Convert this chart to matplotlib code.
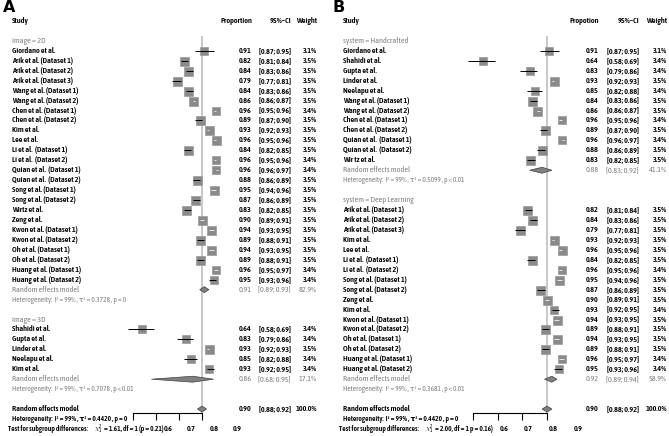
import matplotlib
matplotlib.use("Agg")
import matplotlib.pyplot as plt
from matplotlib import font_manager, transforms
from matplotlib.patches import Polygon

# pick a condensed font (the original uses a narrow humanist face)
installed = {f.name for f in font_manager.fontManager.ttflist}
FONT = "DejaVu Sans"
for cand in ["Asap Condensed", "Barlow Semi Condensed", "Archivo Narrow"]:
    if cand in installed:
        FONT = cand
        break
plt.rcParams["font.family"] = [FONT, "DejaVu Sans"]
plt.rcParams["mathtext.fontset"] = "custom"
plt.rcParams["mathtext.rm"] = FONT
plt.rcParams["mathtext.it"] = FONT + ":italic"
plt.rcParams["mathtext.bf"] = FONT + ":bold"
FS = 5.9
FS_SMALL = 5.3   # heterogeneity / test lines are set a bit tighter
BOLD = 600

# ---------------- panel A : image 2D / 3D ----------------
a_2d_names = ["Giordano et al.", "Arik et al. (Dataset 1)", "Arik et al. (Dataset 2)",
              "Arik et al. (Dataset 3)", "Wang et al. (Dataset 1)", "Wang et al. (Dataset 2)",
              "Chen et al. (Dataset 1)", "Chen et al. (Dataset 2)", "Kim et al.", "Lee et al.",
              "Li et al.  (Dataset 1)", "Li et al.  (Dataset 2)", "Quian et al.  (Dataset 1)",
              "Quian et al.  (Dataset 2)", "Song et al. (Dataset 1)", "Song et al. (Dataset 2)",
              "Wirtz et al.", "Zeng et al.", "Kwon et al. (Dataset 1)", "Kwon et al. (Dataset 2)",
              "Oh et al. (Dataset 1)", "Oh et al. (Dataset 2)", "Huang et al. (Dataset 1)",
              "Huang et al. (Dataset 2)"]
a_2d_prop = [0.91, 0.82, 0.84, 0.79, 0.84, 0.86, 0.96, 0.89, 0.93, 0.96, 0.84, 0.96,
             0.96, 0.88, 0.95, 0.87, 0.83, 0.90, 0.94, 0.89, 0.94, 0.89, 0.96, 0.95]
a_2d_lo = [0.87, 0.81, 0.83, 0.77, 0.83, 0.86, 0.95, 0.87, 0.92, 0.95, 0.82, 0.95,
           0.96, 0.86, 0.94, 0.86, 0.82, 0.89, 0.93, 0.88, 0.93, 0.88, 0.95, 0.93]
a_2d_hi = [0.95, 0.84, 0.86, 0.81, 0.86, 0.87, 0.96, 0.90, 0.93, 0.96, 0.85, 0.96,
           0.97, 0.89, 0.96, 0.89, 0.85, 0.91, 0.95, 0.91, 0.95, 0.91, 0.97, 0.96]
a_2d_w = [3.1, 3.5, 3.5, 3.5, 3.5, 3.5, 3.4, 3.5, 3.5, 3.5, 3.5, 3.4,
          3.4, 3.5, 3.5, 3.5, 3.5, 3.5, 3.5, 3.5, 3.5, 3.5, 3.4, 3.4]

a_3d_names = ["Shahidi et al.", "Gupta et al.", "Linder et al.", "Neelapu et al.", "Kim et al."]
a_3d_prop = [0.64, 0.83, 0.93, 0.85, 0.93]
a_3d_lo = [0.58, 0.79, 0.92, 0.82, 0.92]
a_3d_hi = [0.69, 0.86, 0.93, 0.88, 0.95]
a_3d_w = [3.4, 3.4, 3.5, 3.4, 3.4]

a_sub_labels = ["image = 2D", "image = 3D"]
a_sub_rem = [(0.91, 0.89, 0.93, 82.9), (0.86, 0.68, 0.95, 17.1)]
a_sub_het = ["Heterogeneity:  I² = 99% , τ² = 0.3728 , p = 0",
             "Heterogeneity:  I² = 99% , τ² = 0.7078 , p < 0.01"]
a_test = "= 1.61, df = 1 (p = 0.21)"

# ---------------- panel B : handcrafted / deep learning ----------------
b_hc_names = ["Giordano et al.", "Shahidi et al.", "Gupta et al.", "Linder et al.",
              "Neelapu et al.", "Wang et al. (Dataset 1)", "Wang et al. (Dataset 2)",
              "Chen et al. (Dataset 1)", "Chen et al. (Dataset 2)", "Quian et al.  (Dataset 1)",
              "Quian et al.  (Dataset 2)", "Wir tz et al."]
b_hc_prop = [0.91, 0.64, 0.83, 0.93, 0.85, 0.84, 0.86, 0.96, 0.89, 0.96, 0.88, 0.83]
b_hc_lo = [0.87, 0.58, 0.79, 0.92, 0.82, 0.83, 0.86, 0.95, 0.87, 0.96, 0.86, 0.82]
b_hc_hi = [0.95, 0.69, 0.86, 0.93, 0.88, 0.86, 0.87, 0.96, 0.90, 0.97, 0.89, 0.85]
b_hc_w = [3.1, 3.4, 3.4, 3.5, 3.4, 3.5, 3.5, 3.4, 3.5, 3.4, 3.5, 3.5]

b_dl_names = ["Arik et al. (Dataset 1)", "Arik et al. (Dataset 2)", "Arik et al. (Dataset 3)",
              "Kim et al.", "Lee et al.", "Li et al.  (Dataset 1)", "Li et al.  (Dataset 2)",
              "Song et al. (Dataset 1)", "Song et al. (Dataset 2)", "Zeng et al.", "Kim et al.",
              "Kwon et al. (Dataset 1)", "Kwon et al. (Dataset 2)", "Oh et al. (Dataset 1)",
              "Oh et al. (Dataset 2)", "Huang et al. (Dataset 1)", "Huang et al. (Dataset 2)"]
b_dl_prop = [0.82, 0.84, 0.79, 0.93, 0.96, 0.84, 0.96, 0.95, 0.87, 0.90, 0.93, 0.94,
             0.89, 0.94, 0.89, 0.96, 0.95]
b_dl_lo = [0.81, 0.83, 0.77, 0.92, 0.95, 0.82, 0.95, 0.94, 0.86, 0.89, 0.92, 0.93,
           0.88, 0.93, 0.88, 0.95, 0.93]
b_dl_hi = [0.84, 0.86, 0.81, 0.93, 0.96, 0.85, 0.96, 0.96, 0.89, 0.91, 0.95, 0.95,
           0.91, 0.95, 0.91, 0.97, 0.96]
b_dl_w = [3.5, 3.5, 3.5, 3.5, 3.5, 3.5, 3.4, 3.5, 3.5, 3.5, 3.4, 3.5,
          3.5, 3.5, 3.5, 3.4, 3.4]

b_sub_labels = ["system = Handcrafted", "system = Deep Learning"]
b_sub_rem = [(0.88, 0.83, 0.92, 41.1), (0.92, 0.89, 0.94, 58.9)]
b_sub_het = ["Heterogeneity:  I² = 99% , τ² = 0.5099 , p < 0.01",
             "Heterogeneity:  I² = 99% , τ² = 0.3681 , p < 0.01"]
b_test = "= 2.00, df = 1 p = 0.16)"

# overall model (same in both panels)
overall = (0.90, 0.88, 0.92, 100.0)
overall_het = "Heterogeneity:  I² = 99% , τ² = 0.4420 , p = 0"
tick_vals = [0.6, 0.7, 0.8, 0.9]

W, H = 669, 436
GRAY = "#808080"
fig = plt.figure(figsize=(W / 100, H / 100), dpi=100)
renderer = fig.canvas.get_renderer()


def panel(letter, letter_x, ax_px, lab_x, cols, prop_head, groups, sub_labels, sub_rem,
          sub_het, test_txt, lbl_shift):
    x0, x1 = ax_px
    top, bot = 16, 413
    ax = fig.add_axes([x0 / W, 1 - bot / H, (x1 - x0) / W, (bot - top) / H])
    ax.set_xlim(0.6, 0.9)
    rbot = (bot - 21) / 9.95
    ax.set_ylim(rbot, (top - 21) / 9.95)
    for s in ["top", "left", "right"]:
        ax.spines[s].set_visible(False)
    ax.spines["bottom"].set_bounds(0.6, 0.9)
    ax.spines["bottom"].set_linewidth(0.8)
    ax.set_yticks([])
    ax.set_xticks(tick_vals)
    ax.set_xticklabels([])
    ax.tick_params(axis="x", direction="out", length=5, width=0.8)
    ax.patch.set_visible(False)
    px_per_unit = (x1 - x0) / 0.3

    tr = transforms.blended_transform_factory(fig.transFigure, ax.transData)
    cp, cc, cw = cols

    def txt(x, r, s, **kw):
        kw.setdefault("fontsize", FS)
        return ax.text(x / W, r, s, transform=tr, va="center", clip_on=False, **kw)

    fig.text(letter_x / W, 1 - 8 / H, letter, fontsize=11.5, fontweight="bold", va="center",
             family="DejaVu Sans")
    txt(lab_x, 0, "Study", fontweight=BOLD)
    txt(cp, 0, prop_head, fontweight=BOLD, ha="right")
    txt(cc, 0, "95%–CI", fontweight=BOLD, ha="right")
    txt(cw, 0, "Weight", fontweight=BOLD, ha="right")

    ax.vlines(overall[0], 1.5, rbot, color="#c4c4c4", lw=1.3, zorder=0, clip_on=False)

    r = 2
    for g, (names, prop, lo, hi, w) in enumerate(groups):
        txt(lab_x, r, sub_labels[g], color=GRAY)
        r += 1
        for i in range(len(names)):
            txt(lab_x, r, names[i], fontweight=BOLD)
            side = 9 * (w[i] / 3.5) ** 0.5
            ax.plot(prop[i], r, "s", ms=side * 0.72, mfc="#8a8a8a", mec="#9a9a9a",
                    mew=0.5, clip_on=False, zorder=2)
            hw = side / 2 / px_per_unit
            inside = (prop[i] - lo[i] < hw) and (hi[i] - prop[i] < hw)
            ax.hlines(r, lo[i], hi[i], color="#e8e8e8" if inside else "black",
                      lw=0.7, clip_on=False, zorder=3)
            txt(cp, r, f"{prop[i]:.2f}", fontweight=BOLD, ha="right")
            txt(cc, r, f"[{lo[i]:.2f}; {hi[i]:.2f}]", fontweight=BOLD, ha="right")
            txt(cw, r, f"{w[i]:.1f}%", fontweight=BOLD, ha="right")
            r += 1
        est, l, h, wt = sub_rem[g]
        ax.add_patch(Polygon([(l, r), (est, r - 0.3), (h, r), (est, r + 0.3)],
                             fc="#808080", ec="#404040", lw=0.5, clip_on=False, zorder=3))
        txt(lab_x, r, "Random effects model", color=GRAY)
        txt(cp, r, f"{est:.2f}", color=GRAY, ha="right")
        txt(cc, r, f"[{l:.2f}; {h:.2f}]", color=GRAY, ha="right")
        txt(cw, r, f"{wt:.1f}%", color=GRAY, ha="right")
        txt(lab_x, r + 1, sub_het[g], color=GRAY, fontsize=FS_SMALL)
        r += 3

    est, l, h, wt = overall
    ax.add_patch(Polygon([(l, r), (est, r - 0.3), (h, r), (est, r + 0.3)],
                         fc="#808080", ec="#404040", lw=0.5, clip_on=False, zorder=3))
    txt(lab_x, r, "Random effects model", fontweight=BOLD)
    txt(cp, r, f"{est:.2f}", fontweight=BOLD, ha="right")
    txt(cc, r, f"[{l:.2f}; {h:.2f}]", fontweight=BOLD, ha="right")
    txt(cw, r, f"{wt:.1f}%", fontweight=BOLD, ha="right")
    txt(lab_x, r + 1, overall_het, fontweight=BOLD, fontsize=FS_SMALL)

    # test line in three pieces: heading, chi-square symbol, statistic
    t = txt(lab_x - 4, r + 2, "Test for subgroup differences:", fontweight=BOLD,
            fontsize=FS_SMALL)
    xe = t.get_window_extent(renderer).x1 + 6
    t = txt(xe, r + 2, r"$\chi^2_1$", fontsize=FS_SMALL - 0.2)
    xe = t.get_window_extent(renderer).x1 + 2
    txt(xe, r + 2, test_txt, fontweight=BOLD, fontsize=FS_SMALL)

    # tick labels sit a little to the right of their ticks, as in the original
    shift = transforms.ScaledTranslation(lbl_shift / 100, 0, fig.dpi_scale_trans)
    for v in tick_vals:
        ax.text(v, r + 2, f"{v:.1f}", transform=ax.transData + shift, ha="center",
                va="center", fontsize=FS, fontweight=BOLD, clip_on=False)


panel("A", 3, (133, 202), 12, (252, 291, 317), "Proportion",
      [(a_2d_names, a_2d_prop, a_2d_lo, a_2d_hi, a_2d_w),
       (a_3d_names, a_3d_prop, a_3d_lo, a_3d_hi, a_3d_w)],
      a_sub_labels, a_sub_rem, a_sub_het, a_test, 35)

panel("B", 333, (473, 547), 343, (599, 639, 667), "Propotion",
      [(b_hc_names, b_hc_prop, b_hc_lo, b_hc_hi, b_hc_w),
       (b_dl_names, b_dl_prop, b_dl_lo, b_dl_hi, b_dl_w)],
      b_sub_labels, b_sub_rem, b_sub_het, b_test, 31)

fig.savefig("out.png", dpi=100)
